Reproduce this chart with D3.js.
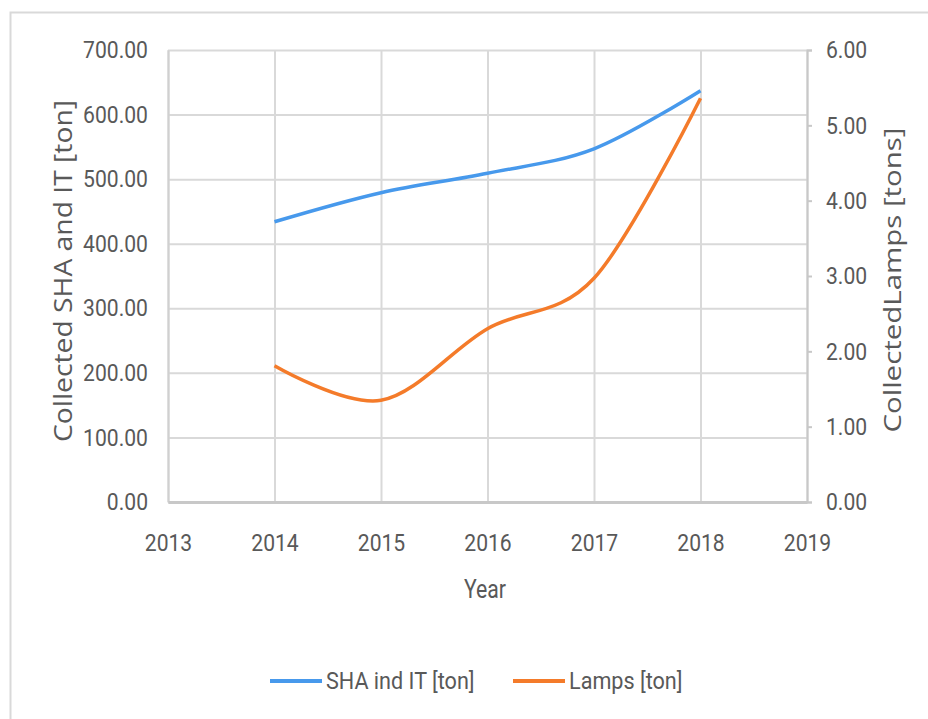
<!DOCTYPE html>
<html>
<head>
<meta charset="utf-8">
<script src="https://cdn.jsdelivr.net/npm/d3@7"></script>
<style>
  body { margin: 0; background: #fff; }
  text { fill: #595959; }
</style>
</head>
<body>
<div class="container"></div>
<script>
const years = [2014, 2015, 2016, 2017, 2018];
const shaTons = [434, 479, 509, 547, 637];
const lampTons = [1.81, 1.35, 2.3, 2.97, 5.36];
const xTicks = [2013, 2014, 2015, 2016, 2017, 2018, 2019];
const leftTicks = [0, 100, 200, 300, 400, 500, 600, 700];
const rightTicks = [0, 1, 2, 3, 4, 5, 6];

const width = 928;
const height = 719;
const plot = { left: 168, right: 807, top: 50, bottom: 502 };
const tickFont = "Roboto, sans-serif";
const titleFont = "'Open Sans', 'Noto Sans', sans-serif";
const blue = "#4799ec";
const orange = "#f47b2a";

// squeeze text horizontally, the reference uses a narrow font
const condense = (sel, k) =>
  sel.each(function () {
    const w = this.getComputedTextLength();
    d3.select(this).attr("textLength", w * k).attr("lengthAdjust", "spacingAndGlyphs");
  });

const svg = d3
  .select(".container")
  .append("svg")
  .attr("width", width)
  .attr("height", height);

// chart frame (cropped at right and bottom in the reference)
svg.append("rect")
  .attr("x", 10.5)
  .attr("y", 12.5)
  .attr("width", 940)
  .attr("height", 740)
  .attr("fill", "#fff")
  .attr("stroke", "#d9d9d9")
  .attr("stroke-width", 2);

const xScale = d3.scaleLinear().domain([2013, 2019]).range([plot.left, plot.right]);
const yLeft = d3.scaleLinear().domain([0, 700]).range([plot.bottom, plot.top]);
const yRight = d3.scaleLinear().domain([0, 6]).range([plot.bottom, plot.top]);

// gridlines
svg.append("g")
  .attr("transform", `translate(0,${plot.bottom})`)
  .call(d3.axisBottom(xScale).tickValues(xTicks).tickSize(-(plot.bottom - plot.top)).tickFormat(""))
  .call((g) => g.select(".domain").remove())
  .call((g) => g.selectAll("line").attr("stroke", "#d9d9d9").attr("stroke-width", 2));

svg.append("g")
  .attr("transform", `translate(${plot.left},0)`)
  .call(d3.axisLeft(yLeft).tickValues(leftTicks).tickSize(-(plot.right - plot.left)).tickFormat(""))
  .call((g) => g.select(".domain").remove())
  .call((g) => g.selectAll("line").attr("stroke", "#d9d9d9").attr("stroke-width", 2));

// left axis labels
const leftAxis = svg.append("g")
  .attr("transform", `translate(${plot.left},0)`)
  .call(d3.axisLeft(yLeft).tickValues(leftTicks).tickSize(0).tickPadding(20).tickFormat(d3.format(".2f")));
leftAxis.select(".domain").attr("stroke", "#d0d0d0").attr("stroke-width", 2);

// right axis
const rightAxis = svg.append("g")
  .attr("transform", `translate(${plot.right},0)`)
  .call(d3.axisRight(yRight).tickValues(rightTicks).tickSize(5).tickPadding(14).tickFormat(d3.format(".2f")));
rightAxis.select(".domain").attr("stroke", "#c8c8c8").attr("stroke-width", 2);
rightAxis.selectAll("line").attr("stroke", "#c8c8c8").attr("stroke-width", 2);

// bottom axis
const xAxis = svg.append("g")
  .attr("transform", `translate(0,${plot.bottom})`)
  .call(d3.axisBottom(xScale).tickValues(xTicks).tickSize(0).tickPadding(32).tickFormat(d3.format("d")));
xAxis.select(".domain").attr("stroke", "#c8c8c8").attr("stroke-width", 3);

svg.selectAll(".tick text")
  .style("font-family", tickFont)
  .style("font-size", "24px")
  .attr("fill", "#595959")
  .call(condense, 0.88);

// axis titles
svg.append("text")
  .attr("transform", "translate(72,271) rotate(-90)")
  .attr("text-anchor", "middle")
  .attr("textLength", 342)
  .attr("lengthAdjust", "spacingAndGlyphs")
  .style("font-family", titleFont)
  .style("font-size", "26px")
  .text("Collected SHA and IT [ton]");

svg.append("text")
  .attr("transform", "translate(901,280) rotate(-90)")
  .attr("text-anchor", "middle")
  .attr("textLength", 305)
  .attr("lengthAdjust", "spacingAndGlyphs")
  .style("font-family", titleFont)
  .style("font-size", "24px")
  .text("CollectedLamps [tons]");

svg.append("text")
  .attr("x", 485)
  .attr("y", 598)
  .attr("text-anchor", "middle")
  .style("font-family", tickFont)
  .style("font-size", "25px")
  .text("Year")
  .call(condense, 0.85);

// series
const line = (yScale) =>
  d3.line()
    .x((d) => xScale(d.year))
    .y((d) => yScale(d.value))
    .curve(d3.curveCardinal.tension(0));

const shaData = years.map((y, i) => ({ year: y, value: shaTons[i] }));
const lampData = years.map((y, i) => ({ year: y, value: lampTons[i] }));

svg.append("path")
  .datum(shaData)
  .attr("fill", "none")
  .attr("stroke", blue)
  .attr("stroke-width", 3.5)
  .attr("d", line(yLeft));

svg.append("path")
  .datum(lampData)
  .attr("fill", "none")
  .attr("stroke", orange)
  .attr("stroke-width", 3.5)
  .attr("d", line(yRight));

// legend
const legend = [
  { name: "SHA ind IT [ton]", color: blue, x: 270 },
  { name: "Lamps [ton]", color: orange, x: 513 },
];
const lg = svg.selectAll(".legend").data(legend).enter().append("g")
  .attr("class", "legend")
  .attr("transform", (d) => `translate(${d.x},681)`);
lg.append("line")
  .attr("x1", 0).attr("x2", 52)
  .attr("stroke", (d) => d.color)
  .attr("stroke-width", 4);
lg.append("text")
  .attr("x", 56)
  .attr("dy", "0.35em")
  .style("font-family", tickFont)
  .style("font-size", "24px")
  .text((d) => d.name)
  .call(condense, 0.9);
</script>
</body>
</html>
